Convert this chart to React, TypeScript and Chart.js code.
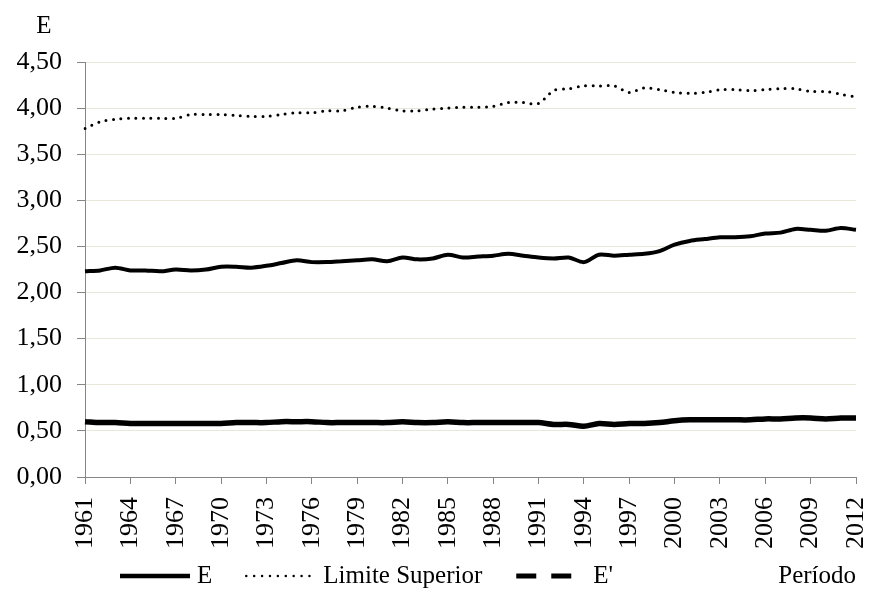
import React, { useEffect, useRef } from 'react';
import { Chart, registerables } from 'chart.js';

Chart.register(...registerables);

const years = [
  '1961', '1962', '1963', '1964', '1965', '1966', '1967', '1968', '1969', '1970',
  '1971', '1972', '1973', '1974', '1975', '1976', '1977', '1978', '1979', '1980',
  '1981', '1982', '1983', '1984', '1985', '1986', '1987', '1988', '1989', '1990',
  '1991', '1992', '1993', '1994', '1995', '1996', '1997', '1998', '1999', '2000',
  '2001', '2002', '2003', '2004', '2005', '2006', '2007', '2008', '2009', '2010',
  '2011', '2012',
];

const shownYears = [
  '1961', '1964', '1967', '1970', '1973', '1976', '1979', '1982', '1985',
  '1988', '1991', '1994', '1997', '2000', '2003', '2006', '2009', '2012',
];

const eValues = [
  2.23, 2.24, 2.27, 2.24, 2.24, 2.23, 2.25, 2.24, 2.25, 2.28,
  2.28, 2.27, 2.29, 2.32, 2.35, 2.33, 2.33, 2.34, 2.35, 2.36,
  2.34, 2.38, 2.36, 2.37, 2.41, 2.38, 2.39, 2.40, 2.42, 2.40,
  2.38, 2.37, 2.38, 2.33, 2.41, 2.40, 2.41, 2.42, 2.45, 2.52,
  2.56, 2.58, 2.60, 2.60, 2.61, 2.64, 2.65, 2.69, 2.68, 2.67,
  2.70, 2.68,
];

const limiteSuperiorValues = [
  3.78, 3.85, 3.88, 3.89, 3.89, 3.89, 3.89, 3.93, 3.93, 3.93,
  3.92, 3.91, 3.91, 3.93, 3.95, 3.95, 3.97, 3.97, 4.01, 4.02,
  4.00, 3.97, 3.97, 3.99, 4.00, 4.01, 4.01, 4.02, 4.06, 4.06,
  4.05, 4.19, 4.21, 4.24, 4.24, 4.24, 4.17, 4.22, 4.20, 4.17,
  4.16, 4.17, 4.20, 4.20, 4.19, 4.20, 4.21, 4.21, 4.18, 4.18,
  4.15, 4.12,
];

const ePrimeValues = [
  0.60, 0.59, 0.59, 0.58, 0.58, 0.58, 0.58, 0.58, 0.58, 0.58,
  0.59, 0.59, 0.59, 0.60, 0.60, 0.60, 0.59, 0.59, 0.59, 0.59,
  0.59, 0.60, 0.59, 0.59, 0.60, 0.59, 0.59, 0.59, 0.59, 0.59,
  0.59, 0.57, 0.57, 0.55, 0.58, 0.57, 0.58, 0.58, 0.59, 0.61,
  0.62, 0.62, 0.62, 0.62, 0.62, 0.63, 0.63, 0.64, 0.64, 0.63,
  0.64, 0.64,
];

const seriesLabels = ['E', 'Limite Superior', "E'"];
const yAxisTitle = 'E';
const xAxisTitle = 'Período';

const FONT = "'Liberation Serif', 'Times New Roman', serif";
const TICK_SIZE = 26;
const TEXT_SIZE = 25;
const AXIS = '#868686';
const GRID = '#e9e7da';
const INK = '#000000';

const legendSamples = [
  { dash: [] as number[], width: 4.5, cap: 'butt' as CanvasLineCap },
  { dash: [0, 7.9], width: 2.5, cap: 'round' as CanvasLineCap },
  { dash: [20, 15], width: 5, cap: 'butt' as CanvasLineCap },
];

const overlayPlugin = {
  id: 'overlayTexts',
  afterDraw(chart: any) {
    const ctx: CanvasRenderingContext2D = chart.ctx;
    ctx.save();
    ctx.font = `${TEXT_SIZE}px ${FONT}`;
    ctx.fillStyle = INK;
    ctx.textBaseline = 'alphabetic';
    const lineY = 576;
    const textY = 583;
    let x = 120;
    chart.data.datasets.forEach((ds: any, i: number) => {
      const s = legendSamples[i];
      ctx.beginPath();
      ctx.setLineDash(s.dash);
      ctx.lineWidth = s.width;
      ctx.lineCap = s.cap;
      ctx.strokeStyle = ds.borderColor;
      ctx.moveTo(x, lineY);
      ctx.lineTo(x + 70, lineY);
      ctx.stroke();
      ctx.setLineDash([]);
      ctx.textAlign = 'left';
      ctx.fillText(ds.label, x + 77, textY);
      x = x + 77 + ctx.measureText(ds.label).width + 34;
    });
    ctx.textAlign = 'center';
    ctx.fillText(yAxisTitle, 44, 33);
    ctx.textAlign = 'right';
    ctx.fillText(xAxisTitle, chart.chartArea.right, textY);
    ctx.restore();
  },
};

export default function App() {
  const canvasRef = useRef<HTMLCanvasElement | null>(null);

  useEffect(() => {
    if (!canvasRef.current) return;
    Chart.defaults.font.family = FONT;
    Chart.defaults.font.size = TICK_SIZE;
    Chart.defaults.color = INK;

    const chart = new Chart(canvasRef.current, {
      type: 'line',
      data: {
        labels: years,
        datasets: [
          {
            label: seriesLabels[0],
            data: eValues,
            borderColor: '#000000',
            backgroundColor: '#000000',
            borderWidth: 4,
            pointRadius: 0,
            tension: 0.3,
          },
          {
            label: seriesLabels[1],
            data: limiteSuperiorValues,
            borderColor: '#000000',
            backgroundColor: '#000000',
            borderWidth: 3,
            borderDash: [0, 7.5],
            borderCapStyle: 'round',
            pointRadius: 0,
            tension: 0.3,
          },
          {
            label: seriesLabels[2],
            data: ePrimeValues,
            borderColor: '#000000',
            backgroundColor: '#000000',
            borderWidth: 5.5,
            pointRadius: 0,
            tension: 0.3,
          },
        ],
      },
      options: {
        animation: false,
        responsive: false,
        maintainAspectRatio: false,
        layout: { padding: { top: 62, right: 13, bottom: 0, left: 0 } },
        plugins: {
          legend: { display: false },
          tooltip: { enabled: false },
          title: { display: false },
        },
        scales: {
          x: {
            type: 'category',
            offset: false,
            grid: {
              drawOnChartArea: false,
              drawTicks: true,
              tickLength: 7,
              color: (c: any) => (shownYears.includes(years[c.index]) ? AXIS : 'rgba(0,0,0,0)'),
              tickColor: (c: any) => (shownYears.includes(years[c.index]) ? AXIS : 'rgba(0,0,0,0)'),
            },
            border: { display: true, color: AXIS, width: 1 },
            ticks: {
              autoSkip: false,
              maxRotation: 90,
              minRotation: 90,
              padding: 13,
              color: INK,
              font: { family: FONT, size: TICK_SIZE },
              callback: (_v: any, i: number) => (shownYears.includes(years[i]) ? years[i] : ''),
            },
            afterFit: (s: any) => {
              s.height = 122;
              s.paddingRight = 0;
              s.paddingLeft = 0;
            },
          },
          y: {
            type: 'linear',
            min: 0,
            max: 4.5,
            grid: {
              color: GRID,
              lineWidth: 1,
              tickColor: AXIS,
              tickLength: 8,
              drawTicks: true,
            },
            border: { display: true, color: AXIS, width: 1 },
            ticks: {
              stepSize: 0.5,
              padding: 15,
              color: INK,
              font: { family: FONT, size: TICK_SIZE },
              callback: (v: any) => Number(v).toFixed(2).replace('.', ','),
            },
            afterFit: (s: any) => {
              s.width = 85;
            },
          },
        },
      },
      plugins: [overlayPlugin],
    });

    return () => {
      chart.destroy();
    };
  }, []);

  return (
    <div style={{ position: 'absolute', left: 0, top: 0, width: 869, height: 599, background: '#ffffff' }}>
      <canvas ref={canvasRef} width={869} height={599} style={{ display: 'block', width: 869, height: 599 }} />
    </div>
  );
}
